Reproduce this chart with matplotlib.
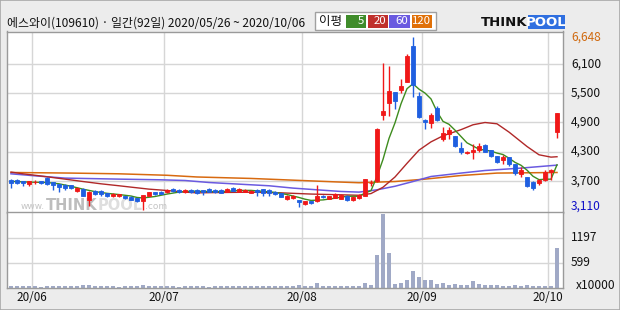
import matplotlib
matplotlib.use("Agg")
import matplotlib.pyplot as plt
from matplotlib.patches import Rectangle

plt.rcParams['font.family'] = ['Noto Sans CJK KR', 'DejaVu Sans']

W, H = 620, 310

# ---- data (price in won, volume in 10,000 shares) ----
opens = [3720, 3720, 3690, 3640, 3670, 3690, 3760, 3670, 3630, 3620,
         3610, 3490, 3540, 3310, 3500, 3500, 3450, 3380, 3385, 3380,
         3370, 3345, 3280, 3400, 3465, 3475, 3470, 3535, 3515, 3470,
         3515, 3515, 3510, 3535, 3515, 3515, 3480, 3555, 3480, 3475,
         3455, 3515, 3530, 3515, 3480, 3445, 3325, 3345, 3300, 3225,
         3280, 3280, 3400, 3330, 3355, 3330, 3395, 3310, 3345, 3400,
         3650, 3690, 5060, 5295, 5515, 5567, 5737, 6475, 5450, 4952,
         4885, 5192, 4557, 4665, 4624, 4384, 4280, 4282, 4337, 4440,
         4337, 4214, 4132, 4187, 4050, 3845, 3777, 3687, 3654, 3708,
         3892, 4712]
closes = [3655, 3665, 3660, 3690, 3680, 3660, 3640, 3620, 3570, 3550,
          3560, 3560, 3400, 3480, 3430, 3425, 3395, 3435, 3430, 3345,
          3315, 3280, 3415, 3465, 3430, 3440, 3515, 3490, 3470, 3515,
          3470, 3455, 3470, 3480, 3470, 3455, 3535, 3500, 3535, 3515,
          3495, 3470, 3460, 3455, 3425, 3375, 3395, 3395, 3260, 3280,
          3250, 3395, 3360, 3380, 3435, 3415, 3300, 3375, 3415, 3740,
          3660, 4760, 5140, 5545, 5330, 5635, 6270, 5670, 5000, 4917,
          5055, 4938, 4680, 4735, 4405, 4302, 4295, 4337, 4419, 4302,
          4200, 4097, 4187, 4044, 3860, 3913, 3599, 3551, 3708, 3892,
          3913, 5090]
highs = [3745, 3740, 3700, 3700, 3720, 3700, 3770, 3680, 3640, 3630,
         3620, 3580, 3550, 3490, 3510, 3515, 3460, 3450, 3440, 3390,
         3380, 3355, 3420, 3475, 3480, 3490, 3530, 3545, 3525, 3530,
         3525, 3525, 3520, 3550, 3525, 3525, 3545, 3570, 3550, 3525,
         3505, 3525, 3540, 3525, 3490, 3455, 3405, 3410, 3310, 3290,
         3285, 3620, 3410, 3395, 3450, 3430, 3405, 3395, 3425, 3745,
         3720, 4780, 6115, 6045, 5515, 5785, 6305, 6648, 5515, 4960,
         5090, 5240, 4802, 4802, 4630, 4487, 4320, 4460, 4470, 4450,
         4340, 4220, 4235, 4190, 4055, 3983, 3780, 3690, 3730, 3913,
         3941, 5090]
lows = [3550, 3640, 3600, 3600, 3630, 3640, 3620, 3520, 3480, 3520,
        3530, 3470, 3390, 3180, 3420, 3400, 3370, 3370, 3375, 3335,
        3300, 3265, 3110, 3390, 3420, 3430, 3460, 3480, 3460, 3460,
        3455, 3440, 3415, 3470, 3460, 3445, 3470, 3490, 3470, 3465,
        3445, 3395, 3380, 3395, 3410, 3365, 3310, 3335, 3160, 3215,
        3225, 3270, 3350, 3320, 3345, 3320, 3280, 3280, 3335, 3390,
        3585, 3680, 4940, 5035, 5180, 5500, 5717, 5417, 4990, 4760,
        4780, 4930, 4508, 4557, 4400, 4255, 4245, 4146, 4290, 4295,
        4180, 4064, 4044, 3995, 3825, 3777, 3572, 3503, 3620, 3690,
        3708, 4577]
volumes = [45, 40, 38, 42, 50, 35, 55, 48, 52, 45,
           40, 38, 60, 75, 45, 40, 38, 42, 35, 40,
           45, 50, 80, 55, 40, 38, 45, 40, 35, 42,
           38, 40, 45, 35, 38, 40, 42, 45, 38, 40,
           42, 50, 45, 40, 38, 45, 50, 42, 60, 50,
           45, 127, 50, 45, 42, 40, 55, 45, 48, 127,
           72, 789, 1770, 844, 96, 127, 191, 406, 255, 191,
           191, 96, 127, 72, 96, 72, 72, 175, 96, 72,
           72, 72, 50, 50, 72, 50, 72, 50, 50, 50,
           50, 948]

# moving averages, read at selected candles
ma5_k = [0, 2, 4, 6, 8, 10, 12, 14, 16, 18, 20, 21, 22, 24, 26, 28, 30, 32, 34, 36,
         38, 40, 42, 44, 46, 48, 49, 50, 52, 54, 56, 58, 59, 60, 61, 62, 63, 64, 65, 66,
         67, 68, 69, 70, 71, 72, 73, 74, 75, 76, 77, 78, 79, 80, 81, 82, 83, 84, 85, 86,
         87, 88, 89, 90, 91]
ma5_v = [3690, 3680, 3672, 3668, 3640, 3590, 3530, 3480, 3445, 3420, 3390, 3360, 3350, 3380, 3430, 3470, 3490, 3485, 3480, 3485,
         3505, 3505, 3485, 3465, 3420, 3360, 3325, 3300, 3310, 3345, 3385, 3385, 3450, 3500, 3790, 4140, 4570, 4890, 5280, 5590,
         5690, 5580, 5500, 5380, 5120, 4920, 4860, 4740, 4610, 4480, 4415, 4350, 4330, 4310, 4270, 4240, 4165, 4080, 4020, 3920,
         3795, 3725, 3735, 3735, 4030]
ma20_k = [0, 2, 5, 9, 12, 15, 18, 20, 23, 26, 29, 31, 35, 40, 45, 50, 55, 58, 60, 62,
          64, 66, 68, 70, 72, 75, 77, 79, 81, 83, 86, 88, 90, 91]
ma20_v = [3880, 3845, 3800, 3736, 3687, 3640, 3600, 3572, 3531, 3503, 3470, 3455, 3462, 3468, 3455, 3430, 3415, 3405, 3440, 3570,
          3780, 4060, 4330, 4500, 4624, 4750, 4850, 4897, 4870, 4700, 4405, 4235, 4187, 4195]
ma60_k = [0, 4, 9, 18, 25, 29, 33, 37, 43, 47, 51, 55, 58, 61, 64, 67, 70, 75, 79, 85, 91]
ma60_v = [3845, 3804, 3757, 3736, 3722, 3708, 3667, 3640, 3600, 3552, 3517, 3483, 3470, 3517, 3590, 3687, 3790, 3860, 3913, 3962, 4023]
ma120_k = [0, 10, 18, 26, 31, 40, 45, 49, 54, 58, 64, 69, 75, 81, 91]
ma120_v = [3872, 3860, 3845, 3815, 3780, 3750, 3725, 3705, 3680, 3662, 3687, 3736, 3810, 3860, 3872]

month_k = [4, 26, 49, 69, 90]
month_labels = ['20/06', '20/07', '20/08', '20/09', '20/10']
price_grid = [3700, 4300, 4900, 5500, 6100]
vol_grid = [599, 1197]

UP, DOWN = '#f01818', '#1f5fe0'
GRID = '#d6d6d6'
SPINE = '#9a9a9a'


def fx(x):
    return x / W


def fy(y):
    return 1 - y / H


fig = plt.figure(figsize=(W / 100, H / 100), dpi=100, facecolor='#ececec')
fig.patches.append(Rectangle((0, 0), 1, 1, transform=fig.transFigure, fill=False,
                             edgecolor='#a8a8a8', lw=1.2))

ax = fig.add_axes([fx(7), fy(212.5), fx(563) - fx(7), fy(31.5) - fy(212.5)])
axv = fig.add_axes([fx(7), fy(288), fx(563) - fx(7), fy(212.5) - fy(288)])

for a in (ax, axv):
    a.set_facecolor('white')
    a.set_xlim(-0.667, 92)
    a.set_xticks([])
    a.set_yticks([])
    for s in a.spines.values():
        s.set_color(SPINE)
        s.set_linewidth(1)
    for k in month_k:
        a.axvline(k - 0.5, color=GRID, lw=1, zorder=0.6)

ax.set_ylim(3052, 6762)
axv.set_ylim(0, 1800)
for p in price_grid:
    ax.axhline(p, color=GRID, lw=1, zorder=0.6)
for v in vol_grid:
    axv.axhline(v, color=GRID, lw=1, zorder=0.6)

# watermark
ax.text(fx(21), fy(209), 'www.', transform=fig.transFigure, fontsize=6.5, color='#c4c4c4',
        va='baseline', family='DejaVu Sans', zorder=0.7)
ax.text(fx(46), fy(210), 'THINK', transform=fig.transFigure, fontsize=10.5, color='#bdbdbd',
        fontweight='bold', va='baseline', family='DejaVu Sans', zorder=0.7)
ax.text(fx(98), fy(210), 'POOL', transform=fig.transFigure, fontsize=10.5, color='#dedede',
        fontweight='bold', va='baseline', family='DejaVu Sans', zorder=0.7)
ax.text(fx(145), fy(209), '.com', transform=fig.transFigure, fontsize=6.5, color='#c4c4c4',
        va='baseline', family='DejaVu Sans', zorder=0.7)

# moving averages
ax.plot(ma120_k, ma120_v, color='#d86a10', lw=1.1, zorder=2)
ax.plot(ma60_k, ma60_v, color='#6a5ae0', lw=1.1, zorder=2.1)
ax.plot(ma20_k, ma20_v, color='#b02828', lw=1.0, zorder=2.2)
ax.plot(ma5_k, ma5_v, color='#3e8c1e', lw=1.0, zorder=2.3)

# candles
for k in range(len(opens)):
    o, c = opens[k], closes[k]
    col = UP if c >= o else DOWN
    ax.vlines(k, lows[k], highs[k], color=col, lw=1, zorder=3)
    ax.bar(k, abs(c - o), bottom=min(o, c), width=0.72, color=col,
           edgecolor=col, lw=0.6, zorder=3.1)

axv.bar(range(len(volumes)), volumes, width=0.75, color='#a0a9c6', zorder=2)

# right-hand labels
lab_x = (571 - 7) / 556
ytr = ax.get_yaxis_transform()
for p in price_grid[::-1]:
    ax.text(lab_x, p, f'{p:,}', transform=ytr, ha='left', va='center', fontsize=8.6, color='#111111')
ax.text(lab_x, max(highs), f'{max(highs):,}', transform=ytr, ha='left', va='center',
        fontsize=8.6, color='#d06a10')
ax.annotate(f'{min(lows):,}', xy=(lab_x, min(lows)), xycoords=ytr, xytext=(0, 2.2),
            textcoords='offset points', ha='left', va='center', fontsize=8.6, color='#1010c8')
vtr = axv.get_yaxis_transform()
for v in vol_grid[::-1]:
    axv.text(lab_x, v, str(v), transform=vtr, ha='left', va='center', fontsize=8.6, color='#111111')
axv.annotate('x10000', xy=(lab_x + 0.008, 0), xycoords=vtr, xytext=(0, 1.5),
             textcoords='offset points', ha='left', va='center', fontsize=8.6, color='#111111')

# month labels
xtr = axv.get_xaxis_transform()
for k, lab in zip(month_k, month_labels):
    axv.text(k - 0.5, -0.12, lab, transform=xtr, ha='center', va='center', fontsize=8.4, color='#111111')

# title
fig.text(fx(7), fy(23), '에스와이(109610) · 일간(92일) 2020/05/26 ~ 2020/10/06',
         ha='left', va='center', fontsize=8.6, color='#111111')

# MA legend box
fig.patches.append(Rectangle((fx(315), fy(29.5)), fx(436) - fx(315), fy(12) - fy(29.5),
                             transform=fig.transFigure, facecolor='white', edgecolor='#a0a0a0', lw=1))
fig.text(fx(319), fy(21), '이평', ha='left', va='center', fontsize=9, color='#111111')
legend_items = [('5', '#3f8c2a', 345.5, 365.5), ('20', '#c0302c', 367.5, 387.5),
                ('60', '#6a5ae0', 389.5, 409.5), ('120', '#e07008', 411.5, 432)]
for lab, col, x0, x1 in legend_items:
    fig.patches.append(Rectangle((fx(x0), fy(27.5)), fx(x1) - fx(x0), fy(15.3) - fy(27.5),
                                 transform=fig.transFigure, facecolor=col, edgecolor='none'))
    fig.text(fx(x1 - 1.5), fy(21.3), lab, ha='right', va='center', fontsize=8.2, color='white')

# THINKPOOL logo
fig.patches.append(Rectangle((fx(528), fy(28.5)), fx(565) - fx(528), fy(15) - fy(28.5),
                             transform=fig.transFigure, facecolor='#2f6fe0', edgecolor='none'))
fig.text(fx(527.5), fy(22), 'THINK', ha='right', va='center', fontsize=9.5, fontweight='bold',
         color='#111111', family='DejaVu Sans')
fig.text(fx(546.5), fy(22), 'POOL', ha='center', va='center', fontsize=9.5, fontweight='bold',
         color='white', family='DejaVu Sans')

fig.savefig('out.png', dpi=100, facecolor=fig.get_facecolor())
